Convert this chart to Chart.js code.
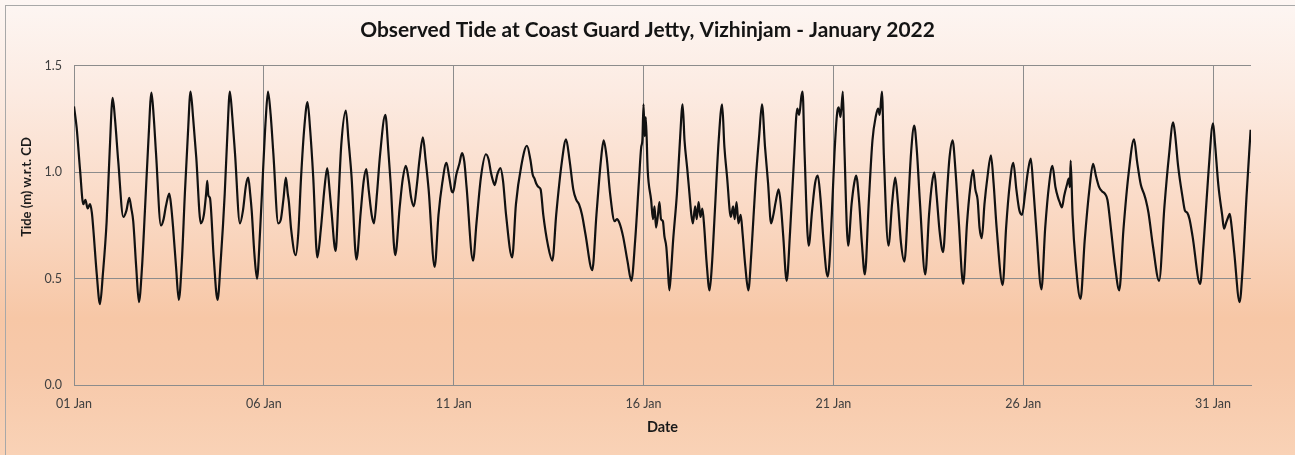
<!DOCTYPE html>
<html><head><meta charset="utf-8">
<script src="https://cdn.jsdelivr.net/npm/chart.js@4.4.1/dist/chart.umd.min.js"></script>
<style>html,body{margin:0;padding:0;background:#fff;}canvas{display:block;}</style>
</head><body>
<canvas id="c" width="1295" height="455"></canvas>
<script>
const chartTitle = 'Observed Tide at Coast Guard Jetty, Vizhinjam - January 2022';
const xAxisTitle = 'Date';
const yAxisTitle = 'Tide (m) w.r.t. CD';
const xTickDays = [0, 5, 10, 15, 20, 25, 30];
const xTickLabels = ['01 Jan', '06 Jan', '11 Jan', '16 Jan', '21 Jan', '26 Jan', '31 Jan'];
const yTickValues = [0, 0.5, 1.0, 1.5];

// time in days since 01 Jan 00:00
const tideDays = [
0.00,0.07,0.16,0.245,0.30,0.36,0.42,0.47,0.51,0.60,0.684,0.76,0.86,0.94,
1.018,1.08,1.166,1.30,1.38,1.455,1.51,1.56,1.64,1.71,1.79,1.868,1.96,
2.04,2.10,2.16,2.29,2.36,2.42,2.51,2.56,2.61,2.69,2.76,2.84,2.92,
3.00,3.07,3.14,3.22,3.34,3.42,3.48,3.51,3.54,3.58,3.68,3.78,3.87,3.97,
4.04,4.105,4.17,4.24,4.37,4.45,4.53,4.59,4.64,4.68,4.75,4.82,4.90,4.98,
5.05,5.11,5.18,5.25,5.38,5.45,5.52,5.58,5.63,5.66,5.72,5.84,5.91,5.98,
6.07,6.15,6.22,6.30,6.41,6.50,6.60,6.67,6.73,6.78,6.89,6.96,
7.04,7.16,7.23,7.31,7.44,7.55,7.63,7.70,7.76,7.84,7.90,7.98,
8.06,8.20,8.28,8.34,8.46,8.58,8.66,8.74,8.82,8.88,8.95,
9.03,9.10,9.19,9.26,9.34,9.50,9.60,9.70,9.81,9.88,9.95,
9.98,10.07,10.15,10.22,10.28,10.34,10.51,10.60,10.72,10.85,10.92,10.98,
11.02,11.08,11.15,11.23,11.30,11.38,11.54,11.64,11.78,11.93,
12.02,12.08,12.13,12.18,12.24,12.29,12.36,12.48,12.60,12.70,12.85,12.96,
13.05,13.15,13.23,13.30,13.38,13.47,13.65,13.76,13.88,13.95,
14.03,14.12,14.24,14.30,14.37,14.46,14.58,14.68,14.78,14.88,14.94,14.97,
15.00,15.03,15.06,15.11,15.20,15.25,15.29,15.33,15.38,15.42,15.46,15.51,15.55,15.60,15.64,15.68,15.72,15.78,15.88,15.96,
16.03,16.08,16.15,16.21,16.26,16.30,16.36,16.40,16.45,16.50,16.55,16.60,16.66,16.74,16.80,16.88,16.98,
17.07,17.13,17.20,17.30,17.36,17.40,17.45,17.50,17.56,17.61,17.68,17.76,17.84,17.95,
18.05,18.12,18.20,18.28,18.36,18.42,18.48,18.56,18.62,18.68,18.77,18.86,18.96,
19.05,19.10,19.16,19.19,19.24,19.35,19.44,19.52,19.59,19.66,19.74,19.85,19.89,19.96,
20.03,20.10,20.14,20.19,20.25,20.29,20.39,20.48,20.55,20.60,20.68,20.75,20.83,20.93,
21.03,21.12,21.18,21.22,21.28,21.33,21.45,21.55,21.63,21.70,21.78,21.87,21.97,
22.05,22.13,22.20,22.28,22.42,22.52,22.60,22.66,22.72,22.80,22.89,22.98,
23.06,23.14,23.22,23.30,23.42,23.52,23.60,23.68,23.74,23.80,23.85,23.91,23.98,
24.06,24.15,24.22,24.30,24.46,24.55,24.65,24.74,24.82,24.90,24.97,
25.05,25.12,25.20,25.27,25.35,25.48,25.58,25.68,25.77,25.85,25.92,25.96,
26.02,26.08,26.15,26.20,26.23,26.25,26.30,26.38,26.51,26.62,26.75,26.84,26.92,
27.00,27.08,27.15,27.22,27.32,27.42,27.53,27.64,27.78,27.92,
28.00,28.10,28.18,28.23,28.30,28.42,28.58,28.72,28.84,28.95,
29.00,29.08,29.20,29.26,29.32,29.38,29.46,29.66,29.75,29.88,
30.00,30.05,30.14,30.24,30.29,30.34,30.40,30.44,30.48,30.56,30.70,30.78,30.88,30.99
];
// observed level (m) w.r.t. chart datum
const tideLevels = [
1.31,1.21,1.01,0.85,0.87,0.83,0.85,0.81,0.73,0.52,0.38,0.52,0.77,1.10,
1.35,1.25,1.05,0.79,0.82,0.88,0.83,0.77,0.55,0.39,0.55,0.82,1.15,
1.375,1.26,1.09,0.75,0.78,0.84,0.90,0.84,0.74,0.55,0.40,0.58,0.90,
1.18,1.38,1.25,1.07,0.76,0.80,0.90,0.96,0.89,0.88,0.60,0.40,0.60,0.90,
1.18,1.38,1.26,1.09,0.76,0.82,0.94,0.975,0.90,0.82,0.62,0.50,0.72,1.01,
1.25,1.38,1.27,1.09,0.76,0.78,0.88,0.975,0.90,0.86,0.73,0.61,0.72,0.975,
1.22,1.33,1.20,0.98,0.60,0.73,0.93,1.02,0.92,0.82,0.63,0.85,
1.13,1.29,1.15,0.98,0.59,0.81,0.96,1.015,0.92,0.80,0.76,0.90,
1.08,1.27,1.10,0.95,0.61,0.84,0.97,1.03,0.96,0.88,0.84,
0.94,1.06,1.165,1.06,0.92,0.555,0.80,0.95,1.045,0.98,0.91,
0.905,0.99,1.04,1.09,1.05,0.93,0.585,0.76,0.98,1.085,1.06,1.00,
0.97,0.94,0.99,1.02,0.96,0.80,0.60,0.85,1.03,1.125,
1.06,0.99,0.97,0.945,0.93,0.92,0.80,0.66,0.585,0.80,1.05,1.155,
1.06,0.92,0.87,0.85,0.80,0.71,0.54,0.80,1.06,1.15,
1.07,0.90,0.77,0.78,0.76,0.70,0.58,0.49,0.68,0.96,1.12,1.15,
1.32,1.17,1.26,1.01,0.87,0.78,0.84,0.74,0.80,0.86,0.78,0.77,0.70,0.65,0.55,0.445,0.52,0.68,0.90,1.15,
1.32,1.15,1.02,0.90,0.80,0.76,0.84,0.78,0.86,0.79,0.83,0.74,0.58,0.445,0.56,0.82,1.15,
1.32,1.12,0.98,0.79,0.84,0.78,0.86,0.76,0.80,0.71,0.56,0.445,0.62,0.95,
1.18,1.32,1.12,0.95,0.76,0.80,0.86,0.92,0.84,0.70,0.49,0.72,1.05,
1.30,1.27,1.36,1.38,1.10,0.655,0.82,0.95,0.985,0.88,0.68,0.51,0.56,0.80,
1.09,1.28,1.305,1.26,1.38,1.12,0.655,0.85,0.95,0.985,0.86,0.67,0.52,0.85,
1.15,1.265,1.30,1.27,1.38,1.08,0.655,0.86,0.975,0.86,0.67,0.58,0.85,
1.10,1.22,1.10,0.86,0.52,0.80,0.95,1.00,0.89,0.72,0.625,0.87,
1.07,1.15,1.00,0.78,0.475,0.76,0.92,1.01,0.92,0.87,0.74,0.69,0.85,
0.98,1.08,0.95,0.74,0.47,0.74,0.95,1.045,0.92,0.82,0.80,
0.90,1.00,1.065,0.92,0.72,0.45,0.74,0.94,1.03,0.93,0.88,0.86,
0.835,0.89,0.94,0.97,0.93,1.055,0.80,0.58,0.405,0.68,0.93,1.04,0.98,
0.93,0.91,0.90,0.87,0.72,0.56,0.445,0.73,1.00,1.155,
1.05,0.94,0.90,0.87,0.81,0.65,0.49,0.84,1.08,1.235,
1.18,1.03,0.88,0.82,0.81,0.78,0.70,0.475,0.66,1.00,
1.23,1.14,0.94,0.80,0.735,0.76,0.79,0.805,0.76,0.62,0.39,0.55,0.88,1.20
];

const bgPlugin = {
  id: 'bg',
  beforeDraw(chart) {
    const ctx = chart.ctx, w = chart.width, h = chart.height;
    ctx.save();
    const g = ctx.createLinearGradient(0, 0, 0, h);
    g.addColorStop(0, '#fdf6f3');
    g.addColorStop(0.2, '#fcebe2');
    g.addColorStop(0.45, '#fadac6');
    g.addColorStop(0.7, '#f7c7a6');
    g.addColorStop(0.82, '#f7c9aa');
    g.addColorStop(1, '#f9d2b6');
    ctx.fillStyle = g;
    ctx.fillRect(0, 0, w, h);
    ctx.strokeStyle = '#a8a8a8';
    ctx.lineWidth = 1;
    ctx.strokeRect(5.5, 5.5, w + 10, h + 10);
    ctx.restore();
  },
  afterDraw(chart) {
    const ctx = chart.ctx;
    ctx.save();
    ctx.translate(27, 187);
    ctx.rotate(-Math.PI / 2);
    ctx.font = 'bold 13px Lato';
    ctx.fillStyle = '#1a1a1a';
    ctx.textAlign = 'center';
    ctx.textBaseline = 'middle';
    ctx.fillText(yAxisTitle, 0, 0);
    ctx.restore();
  }
};

Chart.defaults.font.family = 'Lato';

new Chart(document.getElementById('c'), {
  type: 'line',
  data: {
    datasets: [{
      data: tideDays.map((d, i) => ({ x: d, y: tideLevels[i] })),
      borderColor: '#111111',
      borderWidth: 2.2,
      pointRadius: 0,
      fill: false,
      cubicInterpolationMode: 'monotone'
    }]
  },
  options: {
    responsive: false,
    animation: false,
    devicePixelRatio: 1,
    layout: { padding: 0 },
    plugins: {
      legend: { display: false },
      tooltip: { enabled: false },
      title: {
        display: true,
        text: chartTitle,
        color: '#141414',
        font: { size: 20.9, weight: 'bold', family: 'Lato' },
        padding: { top: 18, bottom: 22.9 }
      }
    },
    scales: {
      x: {
        type: 'linear',
        min: 0,
        max: 31,
        afterBuildTicks: s => { s.ticks = xTickDays.map(v => ({ value: v })); },
        afterFit: s => { s.height = 70; },
        ticks: {
          padding: 11,
          color: '#404040',
          font: { size: 12.5 },
          maxRotation: 0,
          autoSkip: false,
          callback: v => { const i = xTickDays.indexOf(v); return i >= 0 ? xTickLabels[i] : ''; }
        },
        grid: { color: '#8c8c8c', lineWidth: 1, drawTicks: false },
        border: { color: '#8c8c8c' },
        title: {
          display: true,
          text: xAxisTitle,
          color: '#1a1a1a',
          font: { size: 14.5, weight: 'bold' },
          padding: { top: 0, bottom: 19 }
        }
      },
      y: {
        type: 'linear',
        min: 0,
        max: 1.5,
        afterBuildTicks: s => { s.ticks = yTickValues.map(v => ({ value: v })); },
        afterFit: s => { s.width = 74; },
        ticks: {
          padding: 12,
          color: '#404040',
          font: { size: 12.5 },
          callback: v => Number(v).toFixed(1)
        },
        grid: { color: '#8c8c8c', lineWidth: 1, drawTicks: false },
        border: { color: '#8c8c8c' }
      },
      yRight: {
        type: 'linear',
        position: 'right',
        min: 0,
        max: 1.5,
        afterFit: s => { s.width = 44; },
        ticks: { display: false },
        grid: { display: false, drawOnChartArea: false, drawTicks: false },
        border: { display: false }
      }
    }
  },
  plugins: [bgPlugin]
});
</script>
</body></html>
